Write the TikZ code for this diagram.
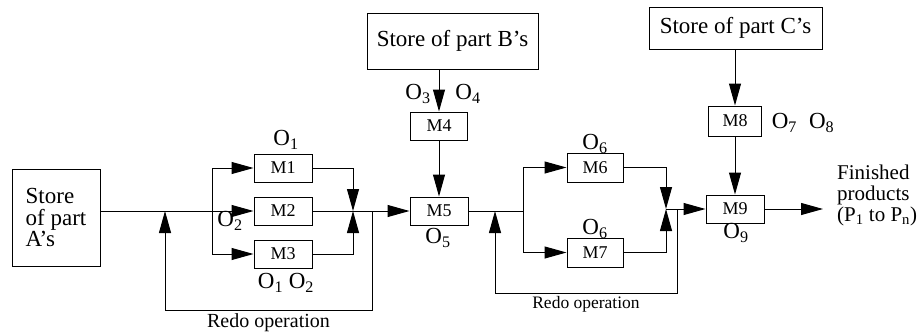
\documentclass[tikz,border=0pt]{standalone}
\usepackage{fontspec}
\setmainfont{Liberation Serif}
\usetikzlibrary{arrows.meta, positioning}

\begin{document}
\begin{tikzpicture}[
            x=1pt, y=-1pt,                     % coordenadas en pixeles, y hacia abajo
            machine/.style={
                rectangle,
                draw=black,
                line width=1pt,
                minimum width=58pt,
                minimum height=28pt,
                inner sep=0pt,
                font=\fontsize{18}{20}\selectfont
            },
            store/.style={
                rectangle,
                draw=black,
                line width=1pt,
                inner sep=0pt,
                font=\fontsize{23}{21.5}\selectfont
            },
            oplabel/.style={
                inner sep=0pt,
                font=\fontsize{23}{20}\selectfont
            },
            redo/.style={
                inner sep=0pt,
                font=\fontsize{20}{20}\selectfont
            },
            line/.style={
                draw,
                line width=1pt
            },
            flow/.style={
                line,
                -{Triangle[length=22pt, width=12pt]}
            }
        ]
            \useasboundingbox (0,0) rectangle (923,332);

            % --- ALMACENES ---
            \node [store, minimum width=88pt, minimum height=97pt, align=left] (storeA) at (56,217.5) {Store\\of part\\A's};
            \node [store, minimum width=171pt, minimum height=56pt] (storeB) at (452.5,41) {Store of part B's};
            \node [store, minimum width=173pt, minimum height=42pt] (storeC) at (735.5,28) {Store of part C's};

            % --- MAQUINAS ---
            \node [machine] (m2) at (283,211) {M2};
            \node [machine, above=14pt of m2] (m1) {M1};
            \node [machine, below=14pt of m2] (m3) {M3};
            \node [machine] (m5) at (439,211) {M5};
            \node [machine, minimum width=57pt, above=56pt of m5] (m4) {M4};
            \node [machine, minimum width=56pt, minimum height=29pt] (m6) at (595,167.5) {M6};
            \node [machine, minimum width=56pt, minimum height=29pt] (m7) at (595,252.5) {M7};
            \node [machine] (m9) at (735,209) {M9};
            \node [machine, minimum width=53pt, minimum height=30pt, above=58pt of m9] (m8) {M8};

            % --- OPERACIONES ---
            \node [oplabel] (o1) at (286,140) {O\textsubscript{1}};
            \node [oplabel] (o2) at (230,221) {O\textsubscript{2}};
            \node [oplabel] (o12) at (286,283) {O\textsubscript{1} O\textsubscript{2}};
            \node [oplabel] (o3) at (418,94) {O\textsubscript{3}};
            \node [oplabel] (o4) at (468,94) {O\textsubscript{4}};
            \node [oplabel] (o5) at (438,238) {O\textsubscript{5}};
            \node [oplabel] (o6a) at (595,144) {O\textsubscript{6}};
            \node [oplabel] (o6b) at (595,229) {O\textsubscript{6}};
            \node [oplabel] (o78) at (803,123) {O\textsubscript{7}\; O\textsubscript{8}};
            \node [oplabel] (o9) at (736,233) {O\textsubscript{9}};

            % --- PUNTOS DE UNION ---
            \coordinate (split1) at (212,211);
            \coordinate (join1) at (353,211);
            \coordinate (redo1) at (372,211);
            \coordinate (loop1) at (165,310);
            \coordinate (back1) at (165,211);
            \coordinate (split2) at (523,211);
            \coordinate (join2) at (666,209);
            \coordinate (redo2) at (677,209);
            \coordinate (loop2) at (495,293);
            \coordinate (back2) at (495,211);
            \coordinate (out) at (823,209);

            \node [oplabel, anchor=west, align=left, font=\fontsize{21}{21}\selectfont] (finished) at (837,195) {Finished\\products\\(P\textsubscript{1} to P\textsubscript{n})};

            % --- ENLACES PRIMERA ETAPA ---
            \path [flow] (storeA.east |- m2) -- (m2);
            \path [line] (m1 -| split1) -- (m3 -| split1);
            \path [flow] (m1 -| split1) -- (m1);
            \path [flow] (m3 -| split1) -- (m3);
            \path [flow] (m1.east) -| (join1);
            \path [flow] (m3.east) -| (join1);
            \path [flow] (m2) -- (m5);
            \path [flow] (redo1) |- node[redo, pos=0.75, below=3pt] {Redo operation} (loop1) -| (back1);

            % --- ENLACES SEGUNDA ETAPA ---
            \path [flow] (storeB.south -| m4) -- (m4);
            \path [flow] (m4) -- (m5);
            \path [line] (m5) -- (split2);
            \path [line] (m6 -| split2) -- (m7 -| split2);
            \path [flow] (m6 -| split2) -- (m6);
            \path [flow] (m7 -| split2) -- (m7);
            \path [flow] (m6.east) -| (join2);
            \path [flow] (m7.east) -| (join2);
            \path [flow] (redo2) |- node[redo, pos=0.75, below=3pt, font=\fontsize{17.5}{18}\selectfont] {Redo operation} (loop2) -| (back2);

            % --- ENLACES TERCERA ETAPA ---
            \path [flow] (storeC.south -| m8) -- (m8);
            \path [flow] (m8) -- (m9);
            \path [flow] (join2) -- (m9);
            \path [flow] (m9) -- (out);
        \end{tikzpicture}
\end{document}
